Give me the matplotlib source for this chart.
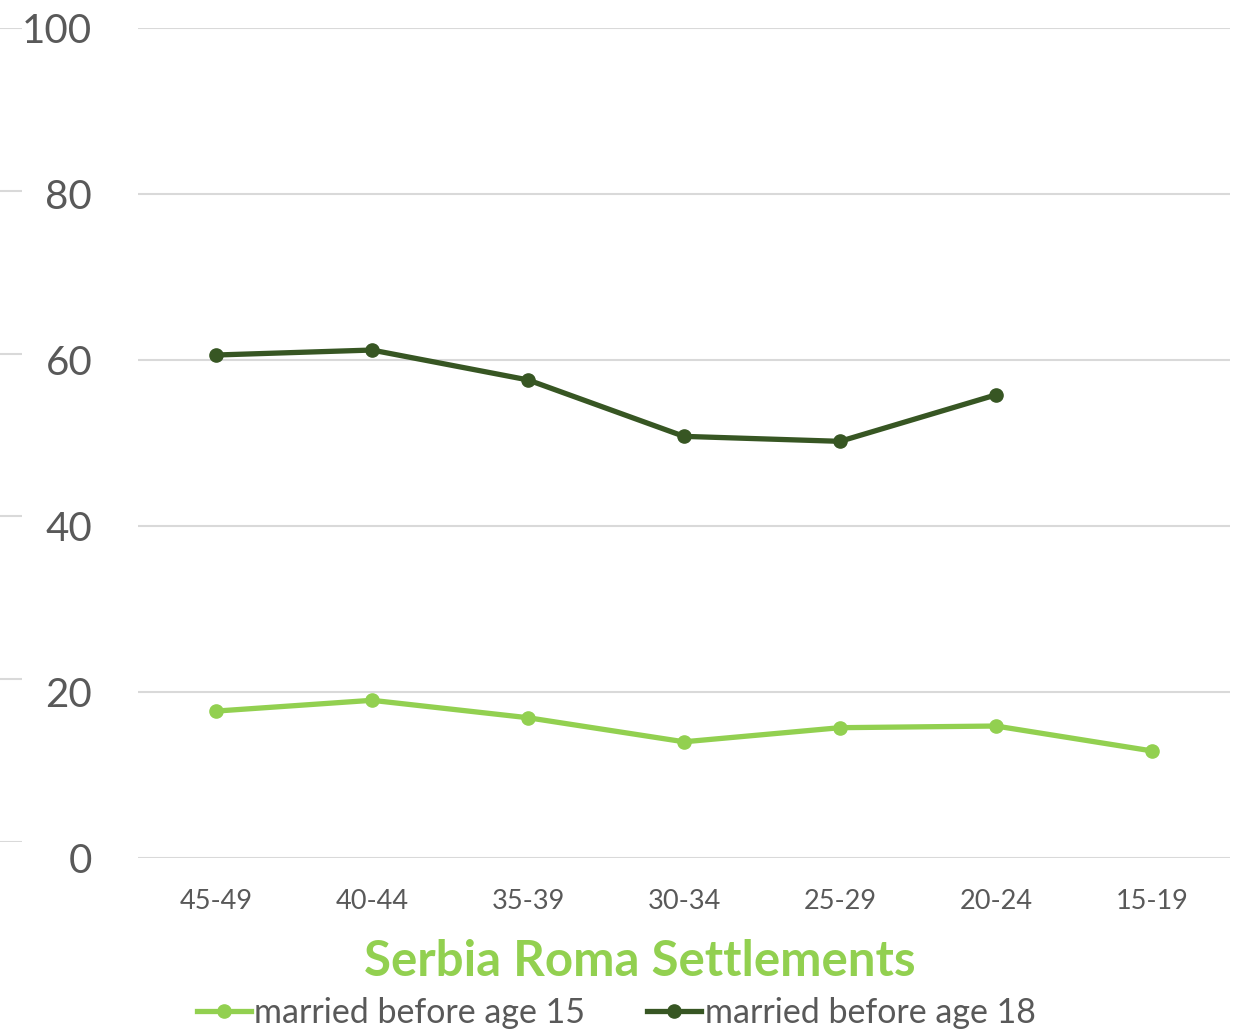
import numpy as np
import matplotlib.pyplot as plt

# =========================
# DATA
# =========================
age_groups = ["45-49", "40-44", "35-39", "30-34", "25-29", "20-24", "15-19"]
before_15 = [17.7, 19.0, 16.9, 14.0, 15.7, 15.9, 12.9]
before_18 = [60.6, 61.2, 57.6, 50.8, 50.2, 55.8]
y_ticks = [0, 20, 40, 60, 80, 100]

light = "#92D050"
dark = "#375623"
grey = "#595959"
grid_c = "#D9D9D9"

plt.rcParams['font.family'] = ['Lato', 'DejaVu Sans']

W, H = 1245, 1033
fig = plt.figure(figsize=(W / 100, H / 100), dpi=100)

# main axes
ax = fig.add_axes([138 / W, (H - 858) / H, (1230 - 138) / W, (858 - 28) / H])
x = np.arange(len(age_groups))
ax.plot(x, before_15, color=light, lw=3.8, marker="o", ms=9.5, label="married before age 15")
ax.plot(x[:len(before_18)], before_18, color=dark, lw=3.8, marker="o", ms=9.5,
        label="married before age 18")

ax.set_xlim(-0.5, len(age_groups) - 0.5)
ax.set_ylim(0, 100)
ax.set_yticks(y_ticks)
ax.set_xticks(x)
ax.set_xticklabels(age_groups)
ax.grid(axis="y", color=grid_c, lw=1.5)
ax.set_axisbelow(True)
for s in ax.spines.values():
    s.set_visible(False)
ax.tick_params(axis="y", length=0, pad=33, labelsize=29, labelcolor=grey)
ax.tick_params(axis="x", length=0, pad=22, labelsize=19.5, labelcolor=grey)

# small left-hand tick marks (slightly compressed scale as in the source)
ax2 = fig.add_axes([0, (H - 842) / H, 22 / W, (842 - 28) / H])
ax2.set_ylim(0, 100)
ax2.set_yticks(y_ticks)
ax2.set_xticks([])
ax2.grid(axis="y", color=grid_c, lw=1.5)
ax2.tick_params(axis="y", length=0, labelleft=False)
for s in ax2.spines.values():
    s.set_visible(False)
ax2.patch.set_alpha(0)

# title + legend
fig.text(640 / W, 1 - 962 / H, "Serbia Roma Settlements", ha="center", va="center",
         fontsize=35.5, fontweight="bold", color=light)
fig.legend(loc="center", bbox_to_anchor=(616 / W, 1 - 1013 / H), ncol=2, frameon=False,
           fontsize=24.5, labelcolor=grey, handlelength=1.6, handletextpad=0.1,
           columnspacing=1.8, markerscale=1.0)

fig.savefig("out.png", dpi=100)
